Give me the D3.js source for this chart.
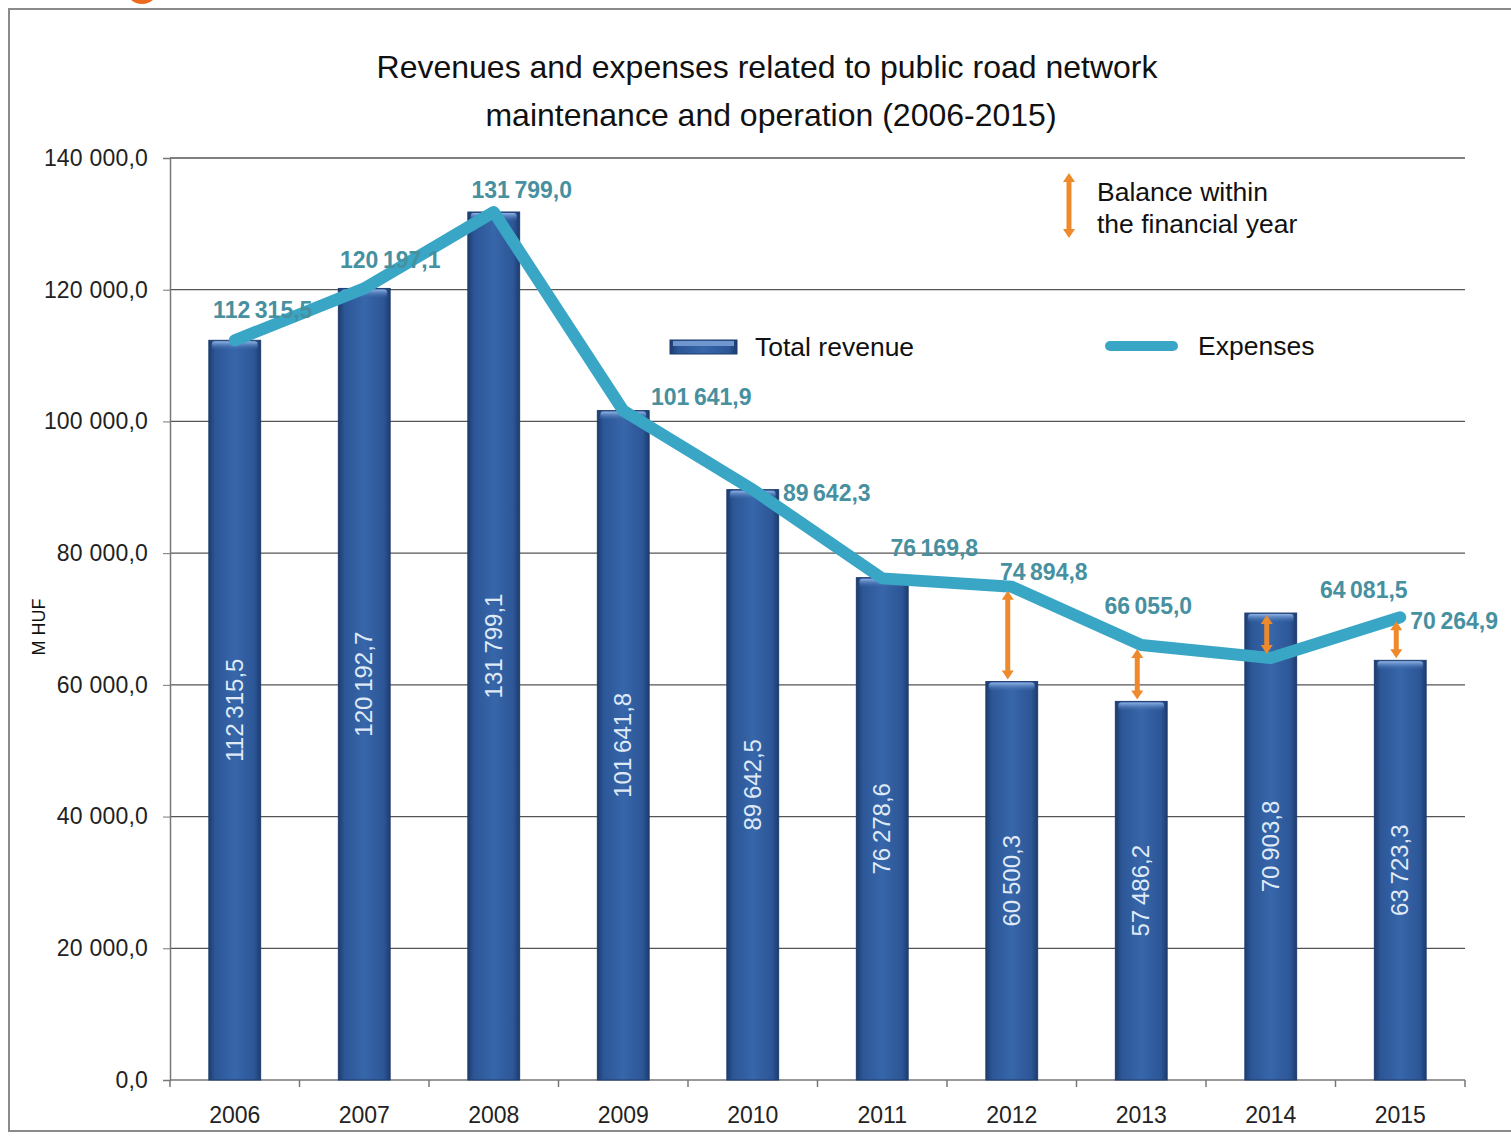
<!doctype html>
<html>
<head>
	<meta charset="utf-8">
	<title>road network</title>
	<script src="https://cdn.jsdelivr.net/npm/d3@7"></script>
	<style>
		body { margin: 0; background: #fff; }
		svg { display: block; font-family: "Liberation Sans", Arial, sans-serif; }
	</style>
</head>
<body>
<script>
// data
var years = ["2006", "2007", "2008", "2009", "2010", "2011", "2012", "2013", "2014", "2015"]
var revenue = [112315.5, 120192.7, 131799.1, 101641.8, 89642.5, 76278.6, 60500.3, 57486.2, 70903.8, 63723.3]
var expenses = [112315.5, 120197.1, 131799.0, 101641.9, 89642.3, 76169.8, 74894.8, 66055.0, 64081.5, 70264.9]
var balanceYears = ["2012", "2013", "2014", "2015"]
var yTicks = [0, 20000, 40000, 60000, 80000, 100000, 120000, 140000]

// label placement for expense values (dx, dy from the point, anchor)
var expLabelPos = [
	[28, -30, "middle"], [26, -28, "middle"], [28, -22, "middle"], [78, -14, "middle"], [74, 3, "middle"],
	[52, -30, "middle"], [32, -15, "middle"], [7, -39, "middle"], [93, -68, "middle"], [10, 4, "start"]
]

var width = 1511
var height = 1137
var svg = d3.select("body").append("svg")
	.attr("width", width)
	.attr("height", height)

var loc = d3.formatLocale({decimal: ",", thousands: "\u2009", grouping: [3], currency: ["", ""]})
var fmt = loc.format(",.1f")
var tickFmt = d3.formatLocale({decimal: ",", thousands: " ", grouping: [3], currency: ["", ""]}).format(",.1f")

var x = d3.scaleBand().domain(years).range([170, 1465]).paddingInner(0.6).paddingOuter(0.3)
var y = d3.scaleLinear().domain([0, 140000]).range([1080, 158])

var defs = svg.append("defs")
var grad = defs.append("linearGradient").attr("id", "barGrad").attr("x1", 0).attr("x2", 1).attr("y1", 0).attr("y2", 0)
grad.append("stop").attr("offset", "0%").attr("stop-color", "#1d3c6e")
grad.append("stop").attr("offset", "12%").attr("stop-color", "#2c5696")
grad.append("stop").attr("offset", "50%").attr("stop-color", "#3766aa")
grad.append("stop").attr("offset", "88%").attr("stop-color", "#2c5696")
grad.append("stop").attr("offset", "100%").attr("stop-color", "#1d3c6e")
var topGrad = defs.append("linearGradient").attr("id", "topGrad").attr("x1", 0).attr("x2", 0).attr("y1", 0).attr("y2", 1)
topGrad.append("stop").attr("offset", "0%").attr("stop-color", "#8fb3e6")
topGrad.append("stop").attr("offset", "100%").attr("stop-color", "#3766aa").attr("stop-opacity", 0)

// frame and orange dot
svg.append("circle").attr("cx", 142).attr("cy", -13).attr("r", 17).attr("fill", "#ec6a1e")
svg.append("rect").attr("x", 9).attr("y", 9).attr("width", 1520).attr("height", 1122)
	.attr("fill", "none").attr("stroke", "#8a8a8a").attr("stroke-width", 2)

// title
svg.append("text").attr("x", 767).attr("y", 78).attr("text-anchor", "middle")
	.attr("font-size", 32).attr("fill", "#111").text("Revenues and expenses related to public road network")
svg.append("text").attr("x", 771).attr("y", 126).attr("text-anchor", "middle")
	.attr("font-size", 32).attr("fill", "#111").text("maintenance and operation (2006-2015)")

// grid lines
svg.append("g").selectAll("line").data(yTicks).enter().append("line")
	.attr("x1", 170).attr("x2", 1465)
	.attr("y1", function(d) { return y(d) }).attr("y2", function(d) { return y(d) })
	.attr("stroke", function(d) { return d === 0 ? "#777" : "#555" })
	.attr("stroke-width", 1.3)

// y axis
var yAxis = svg.append("g").attr("transform", "translate(170,0)")
	.call(d3.axisLeft(y).tickValues(yTicks).tickSize(7).tickFormat(tickFmt))
yAxis.select(".domain").attr("stroke", "#777").attr("stroke-width", 1.5)
yAxis.selectAll(".tick line").attr("stroke", "#777")
yAxis.selectAll("text").attr("font-family", "'Liberation Sans', Arial, sans-serif").attr("font-size", 23)
	.attr("letter-spacing", 0.2).attr("fill", "#222").attr("x", -22)

svg.append("text").attr("transform", "translate(45,627) rotate(-90)").attr("text-anchor", "middle")
	.attr("font-size", 18).attr("fill", "#111").text("M HUF")

// x axis, ticks on band boundaries
var bounds = years.map(function(d) { return x(d) - x.step() * x.paddingOuter() })
bounds.push(1465)
svg.append("g").selectAll("line").data(bounds).enter().append("line")
	.attr("x1", function(d) { return d }).attr("x2", function(d) { return d })
	.attr("y1", 1080).attr("y2", 1087).attr("stroke", "#777").attr("stroke-width", 1.5)
svg.append("g").selectAll("text").data(years).enter().append("text")
	.attr("x", function(d) { return x(d) + x.bandwidth() / 2 })
	.attr("y", 1123).attr("text-anchor", "middle")
	.attr("font-size", 23).attr("fill", "#222")
	.text(function(d) { return d })

// bars
var bars = svg.append("g").selectAll("g").data(years).enter().append("g")
bars.append("rect")
	.attr("x", function(d) { return x(d) })
	.attr("y", function(d, i) { return y(revenue[i]) })
	.attr("width", x.bandwidth())
	.attr("height", function(d, i) { return y(0) - y(revenue[i]) })
	.attr("fill", "url(#barGrad)")
	.attr("stroke", "#1f3d6e").attr("stroke-width", 1)
bars.append("rect")
	.attr("x", function(d) { return x(d) + 3 })
	.attr("y", function(d, i) { return y(revenue[i]) + 1 })
	.attr("width", x.bandwidth() - 6)
	.attr("height", 9)
	.attr("rx", 3)
	.attr("fill", "url(#topGrad)")
bars.append("text")
	.attr("transform", function(d, i) {
		var cx = x(d) + x.bandwidth() / 2 + 8
		var cy = (y(revenue[i]) + y(0)) / 2
		return "translate(" + cx + "," + cy + ") rotate(-90)"
	})
	.attr("text-anchor", "middle")
	.attr("font-size", 24)
	.attr("fill", "#dfeaf6")
	.text(function(d, i) { return fmt(revenue[i]) })

// expenses line
var line = d3.line()
	.x(function(d, i) { return x(years[i]) + x.bandwidth() / 2 })
	.y(function(d) { return y(d) })
svg.append("path").datum(expenses)
	.attr("d", line)
	.attr("fill", "none").attr("stroke", "#3aa6c6").attr("stroke-width", 12)
	.attr("stroke-linejoin", "round").attr("stroke-linecap", "round")

// balance arrows
var arrowColor = "#ee8a2c"
function arrow(g, xc, y1, y2) {
	var top = Math.min(y1, y2), bot = Math.max(y1, y2)
	g.append("line").attr("x1", xc).attr("x2", xc).attr("y1", top + 6).attr("y2", bot - 6)
		.attr("stroke", arrowColor).attr("stroke-width", 5)
	g.append("path").attr("d", "M" + (xc - 6) + "," + (top + 9) + "L" + xc + "," + top + "L" + (xc + 6) + "," + (top + 9) + "Z")
		.attr("fill", arrowColor)
	g.append("path").attr("d", "M" + (xc - 6) + "," + (bot - 9) + "L" + xc + "," + bot + "L" + (xc + 6) + "," + (bot - 9) + "Z")
		.attr("fill", arrowColor)
}
var ag = svg.append("g")
balanceYears.forEach(function(yr) {
	var i = years.indexOf(yr)
	var xc = x(yr) + x.bandwidth() / 2 - 4
	var e = y(expenses[i]), r = y(revenue[i])
	if (e < r) arrow(ag, xc, e + 4, r - 2)
	else arrow(ag, xc, r + 2, e - 4)
})

// expense labels
svg.append("g").selectAll("text").data(expenses).enter().append("text")
	.attr("x", function(d, i) { return x(years[i]) + x.bandwidth() / 2 + expLabelPos[i][0] })
	.attr("y", function(d, i) { return y(d) + expLabelPos[i][1] })
	.attr("dy", "0.35em")
	.attr("text-anchor", function(d, i) { return expLabelPos[i][2] })
	.attr("font-size", 23).attr("font-weight", 600)
	.attr("fill", "#46909f")
	.text(function(d) { return fmt(d) })

// legend
svg.append("rect").attr("x", 670).attr("y", 340).attr("width", 67).attr("height", 14)
	.attr("fill", "url(#barGrad)").attr("stroke", "#1f3d6e")
svg.append("rect").attr("x", 673).attr("y", 341).attr("width", 61).attr("height", 5).attr("fill", "#6f96cf")
svg.append("text").attr("x", 755).attr("y", 356).attr("font-size", 26.5).attr("fill", "#111").text("Total revenue")

svg.append("line").attr("x1", 1110).attr("x2", 1173).attr("y1", 346).attr("y2", 346)
	.attr("stroke", "#3aa6c6").attr("stroke-width", 10).attr("stroke-linecap", "round")
svg.append("text").attr("x", 1198).attr("y", 355).attr("font-size", 26.5).attr("fill", "#111").text("Expenses")

arrow(svg.append("g"), 1069, 173, 238)
svg.append("text").attr("x", 1097).attr("y", 201).attr("font-size", 26.5).attr("fill", "#111").text("Balance within")
svg.append("text").attr("x", 1097).attr("y", 233).attr("font-size", 26.5).attr("fill", "#111").text("the financial year")
</script>
</body>
</html>
